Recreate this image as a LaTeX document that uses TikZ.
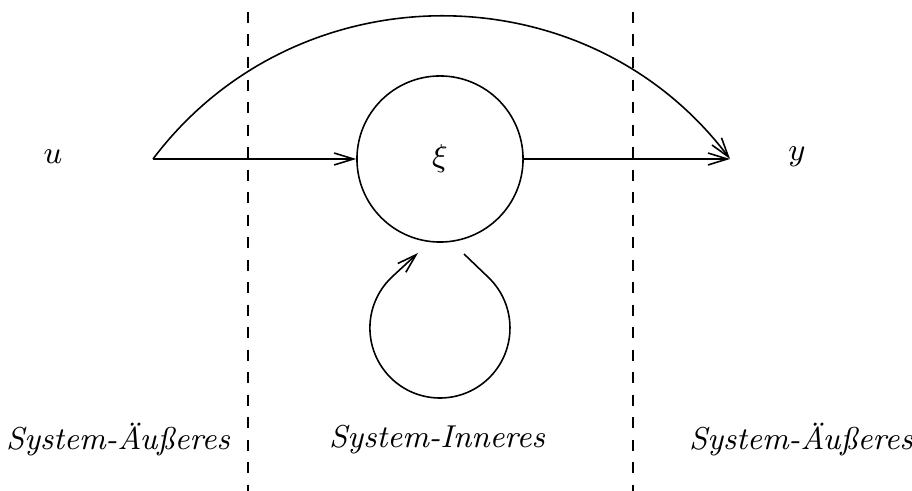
\documentclass[tikz,border=0pt]{standalone}
\usetikzlibrary{arrows.meta}
\begin{document}
\begin{tikzpicture}[x=0.01cm,y=0.01cm,
  every node/.style={font=\fontsize{9}{11}\selectfont},
  conn/.style={line width=0.45pt,-{Straight Barb[length=5.5pt,width=3.4pt,line width=0.45pt]}},
  sep/.style={line width=0.45pt,dash pattern=on 3.2pt off 3.2pt},
  lbl/.style={font=\fontsize{9}{11}\selectfont\itshape,inner sep=0pt},
  var/.style={inner sep=0pt}]
\useasboundingbox (0,0) rectangle (912,491);
% separators
\coordinate (s1t) at (248,479);
\coordinate (s1b) at (248,0);
\coordinate (s2t) at (633,479);
\coordinate (s2b) at (633,0);
\draw[sep] (s1t) -- (s1b);
\draw[sep] (s2t) -- (s2b);
% labels
\node[var] (u) at (53,334) {$u$};
\node[var] (y) at (797,334) {$y$};
\node[circle,draw,line width=0.45pt,minimum size=1.66cm,inner sep=0pt] (xi) at (440,332) {$\xi$};
\node[lbl] (l1) at (118,51) {System-Äußeres};
\node[lbl] (l2) at (437,51) {System-Inneres};
\node[lbl] (l3) at (801,51) {System-Äußeres};
% connectors
\coordinate (in) at (153,332);
\coordinate (out) at (730,332);
\draw[conn] (in) -- (xi.west);
\draw[conn] (xi.east) -- (out);
\draw[conn] (in) to[out=53,in=127,looseness=1.06] (out);
% self loop
\coordinate (lp) at (464,237);
\coordinate (lq) at (418,238);
\draw[conn] (lp) -- (488.5,213.5) arc[start angle=46.1,end angle=-227.2,radius=0.7cm] -- (lq);
\end{tikzpicture}
\end{document}
